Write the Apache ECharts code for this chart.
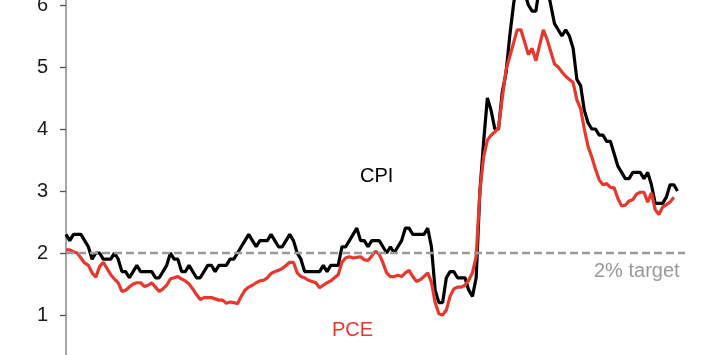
<!DOCTYPE html>
<html>
<head>
<meta charset="utf-8">
<script src="https://cdn.jsdelivr.net/npm/echarts@6/dist/echarts.min.js"></script>
<style>
html,body{margin:0;padding:0;background:#fff;}
#chart{width:717px;height:355px;}
</style>
</head>
<body>
<div id="chart"></div>
<script>
// Monthly categories Jan 2012 .. Nov 2025 (last two months are empty padding for the target line)
var startYear = 2012;
var monthCount = 167;
var categories = [];
for (var i = 0; i < monthCount; i++) {
  var y = startYear + Math.floor(i / 12);
  var m = (i % 12) + 1;
  categories.push(y + '-' + (m < 10 ? '0' + m : m));
}

// Core CPI, % y/y (Jan 2012 .. Sep 2025)
var cpi = [
  2.3, 2.2, 2.3, 2.3, 2.3, 2.2, 2.1, 1.9, 2.0, 2.0, 1.9, 1.9,
  1.9, 2.0, 1.9, 1.7, 1.7, 1.6, 1.7, 1.8, 1.7, 1.7, 1.7, 1.7,
  1.6, 1.6, 1.7, 1.8, 2.0, 1.9, 1.9, 1.7, 1.7, 1.8, 1.7, 1.6,
  1.6, 1.7, 1.8, 1.8, 1.7, 1.8, 1.8, 1.8, 1.9, 1.9, 2.0, 2.1,
  2.2, 2.3, 2.2, 2.1, 2.2, 2.2, 2.2, 2.3, 2.2, 2.1, 2.1, 2.2,
  2.3, 2.2, 2.0, 1.9, 1.7, 1.7, 1.7, 1.7, 1.7, 1.8, 1.7, 1.8,
  1.8, 1.8, 2.1, 2.1, 2.2, 2.3, 2.4, 2.2, 2.2, 2.1, 2.2, 2.2,
  2.2, 2.1, 2.0, 2.1, 2.0, 2.1, 2.2, 2.4, 2.4, 2.3, 2.3, 2.3,
  2.3, 2.4, 2.1, 1.4, 1.2, 1.2, 1.6, 1.7, 1.7, 1.6, 1.6, 1.6,
  1.4, 1.3, 1.6, 3.0, 3.8, 4.5, 4.3, 4.0, 4.0, 4.6, 4.9, 5.5,
  6.0, 6.4, 6.5, 6.2, 6.0, 5.9, 5.9, 6.3, 6.6, 6.3, 6.0, 5.7,
  5.6, 5.5, 5.6, 5.5, 5.3, 4.8, 4.7, 4.3, 4.1, 4.0, 4.0, 3.9,
  3.9, 3.8, 3.8, 3.6, 3.4, 3.3, 3.2, 3.2, 3.3, 3.3, 3.3, 3.2,
  3.3, 3.1, 2.8, 2.8, 2.8, 2.9, 3.1, 3.1, 3.0
];

// Core PCE, % y/y (Jan 2012 .. Aug 2025)
var pce = [
  2.05, 2.05, 2.02, 2.00, 1.92, 1.84, 1.80, 1.68, 1.61, 1.78, 1.85, 1.75,
  1.65, 1.58, 1.52, 1.38, 1.40, 1.45, 1.50, 1.52, 1.52, 1.46, 1.48, 1.52,
  1.45, 1.38, 1.42, 1.48, 1.58, 1.60, 1.62, 1.58, 1.55, 1.50, 1.42, 1.33,
  1.25, 1.28, 1.28, 1.28, 1.26, 1.24, 1.24, 1.19, 1.21, 1.20, 1.18, 1.30,
  1.40, 1.45, 1.48, 1.52, 1.55, 1.56, 1.60, 1.67, 1.70, 1.72, 1.75, 1.80,
  1.85, 1.85, 1.68, 1.62, 1.60, 1.56, 1.54, 1.52, 1.44, 1.48, 1.52, 1.55,
  1.60, 1.65, 1.85, 1.92, 1.94, 1.92, 1.93, 1.94, 1.89, 1.88, 1.95, 2.03,
  1.98, 1.84, 1.68, 1.62, 1.62, 1.64, 1.62, 1.68, 1.72, 1.62, 1.54, 1.57,
  1.62, 1.68, 1.53, 1.20, 1.02, 1.00, 1.08, 1.30, 1.42, 1.45, 1.45, 1.48,
  1.56, 1.68, 1.95, 3.00, 3.55, 3.82, 3.90, 3.95, 4.02, 4.50, 4.95, 5.17,
  5.38, 5.60, 5.60, 5.40, 5.20, 5.30, 5.10, 5.35, 5.60, 5.45, 5.25, 5.05,
  5.00, 4.92, 4.85, 4.80, 4.75, 4.47, 4.33, 4.00, 3.72, 3.55, 3.35, 3.18,
  3.10, 3.12, 3.06, 3.05, 2.88, 2.76, 2.77, 2.84, 2.86, 2.95, 2.98, 2.98,
  2.82, 2.97, 2.70, 2.62, 2.74, 2.78, 2.82, 2.90
];

var targetValue = 2;
var yTickValues = [1, 2, 3, 4, 5, 6];
var yRange = { min: 0.3548, max: 6.0806 };

function pad(arr) {
  var out = arr.slice();
  while (out.length < monthCount) out.push(null);
  return out;
}

var FONT = 'Liberation Sans, Arial, sans-serif';
var chart = echarts.init(document.getElementById('chart'), null, { renderer: 'canvas' });
chart.setOption({
  animation: false,
  backgroundColor: '#ffffff',
  grid: { left: 66, right: 32, top: 0, bottom: 0, containLabel: false, outerBoundsMode: 'none' },
  xAxis: {
    type: 'category',
    data: categories,
    boundaryGap: false,
    show: false
  },
  yAxis: {
    type: 'value',
    min: yRange.min,
    max: yRange.max,
    splitLine: { show: false },
    axisLine: { show: true, lineStyle: { color: '#a6a6a6', width: 2 } },
    axisTick: { show: true, length: 6, customValues: yTickValues, lineStyle: { color: '#555555', width: 1.3 } },
    axisLabel: { margin: 18, color: '#1a1a1a', fontSize: 20, fontFamily: FONT, customValues: yTickValues }
  },
  series: [
    {
      name: 'CPI',
      type: 'line',
      data: pad(cpi),
      symbol: 'none',
      lineStyle: { color: '#000000', width: 3.2 },
      z: 3,
      markLine: {
        silent: true,
        symbol: 'none',
        label: { show: false },
        lineStyle: { color: '#9a9a9a', width: 2.4, type: [8, 4] },
        data: [{ yAxis: targetValue }]
      }
    },
    {
      name: 'PCE',
      type: 'line',
      data: pad(pce),
      symbol: 'none',
      lineStyle: { color: '#e8372c', width: 3.2 },
      z: 4
    }
  ],
  graphic: [
    { type: 'text', left: 360, top: 166, style: { text: 'CPI', fill: '#000000', font: '20px ' + FONT } },
    { type: 'text', left: 332, top: 320, style: { text: 'PCE', fill: '#e8372c', font: '20px ' + FONT } },
    { type: 'text', left: 594, top: 261, style: { text: '2% target', fill: '#9a9a9a', font: '20px ' + FONT } }
  ]
});
</script>
</body>
</html>
